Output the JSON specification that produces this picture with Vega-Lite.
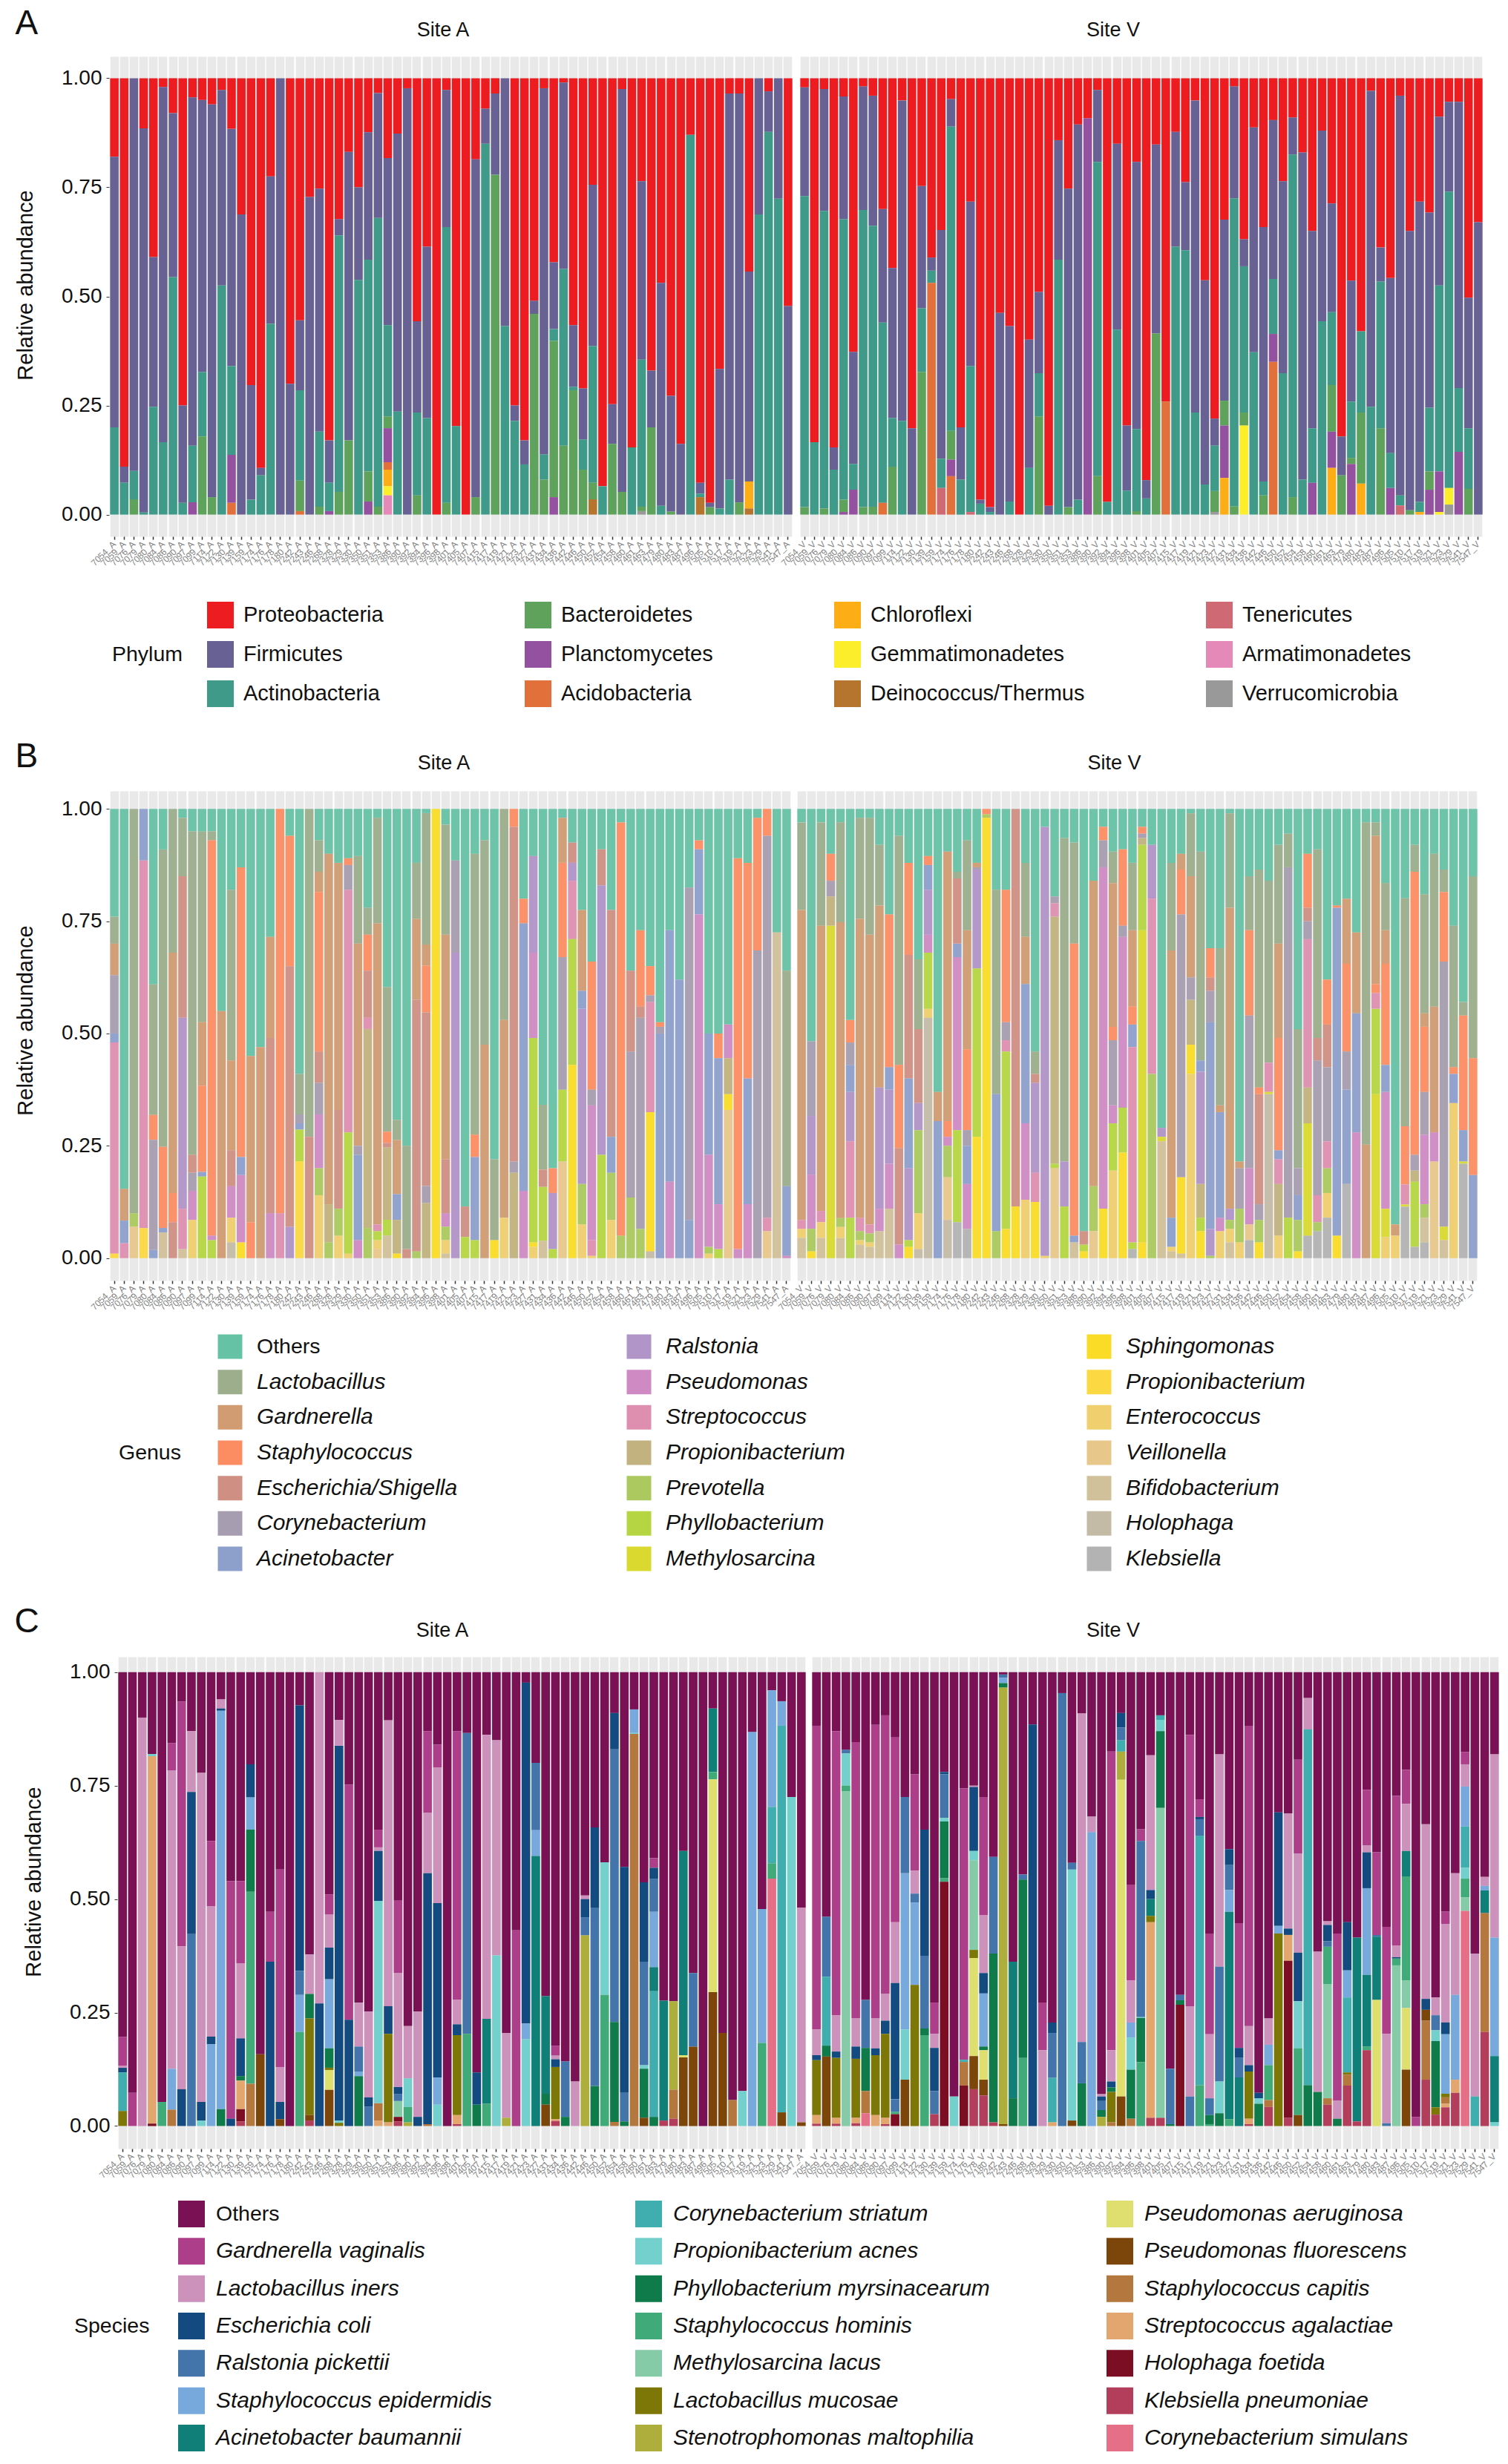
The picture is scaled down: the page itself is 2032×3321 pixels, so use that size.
{
"$schema":"https://vega.github.io/schema/vega-lite/v6.json",
"padding":{"left":19,"top":8,"right":0,"bottom":0},
"background":"white",
"spacing":0,
"resolve":{"scale":{"color":"independent"}},
"config":{"font":"Liberation Sans","view":{"stroke":null},
"axis":{"labelFont":"Liberation Sans","titleFont":"Liberation Sans","domain":false,"titleFontWeight":"normal"},
"axisX":{"grid":true,"gridColor":"#e9e9e9","gridWidth":11.6,"labelAngle":-45,"labelAlign":"right","labelBaseline":"middle","labelFontSize":12,"labelColor":"#858585","labelOverlap":false,"labelBound":false,"labelPadding":4,"tickSize":4,"tickColor":"#333333","tickWidth":1.5,"title":null},
"axisY":{"grid":false,"labelFontSize":28,"labelColor":"#111111","titleFontSize":29,"titleColor":"#111111","titlePadding":33,"labelPadding":6,"tickSize":4,"tickColor":"#333333"},
"title":{"font":"Liberation Sans","fontSize":27,"fontWeight":"normal","color":"#111111","offset":21.5}},
"datasets":{
"A_A":[{"x":"7054","a":0.18,"b":0.62,"c":0.2},{"x":"7059","a":0.89,"b":0.037,"c":0.073},{"x":"7076","b":0.9,"c":0.065,"d":0.035},{"x":"7079","a":0.115,"b":0.88,"c":0.005},{"x":"7080","a":0.41,"b":0.343,"c":0.247},{"x":"7084","a":0.02,"b":0.814,"c":0.166},{"x":"7086","a":0.08,"b":0.376,"c":0.544},{"x":"7090","a":0.75,"b":0.223,"c":0.027},{"x":"7097","a":0.044,"b":0.798,"c":0.13,"e":0.028},{"x":"7099","a":0.05,"b":0.623,"c":0.148,"d":0.179},{"x":"7114","a":0.06,"b":0.9,"d":0.04},{"x":"7122","a":0.027,"b":0.448,"c":0.525},{"x":"7130","a":0.116,"b":0.544,"c":0.203,"e":0.11,"f":0.027},{"x":"7139","a":0.312,"b":0.688},{"x":"7159","a":0.703,"b":0.263,"c":0.034},{"x":"7174","a":0.893,"b":0.017,"c":0.09},{"x":"7176","a":0.225,"b":0.338,"c":0.437},{"x":"7178","b":1},{"x":"7180","a":0.7,"b":0.3},{"x":"7242","a":0.555,"b":0.16,"c":0.207,"d":0.07,"f":0.008},{"x":"7243","a":0.272,"b":0.728},{"x":"7246","a":0.253,"b":0.557,"c":0.172,"d":0.018},{"x":"7268","a":0.83,"b":0.097,"c":0.065,"e":0.008},{"x":"7328","a":0.323,"b":0.037,"c":0.588,"d":0.052},{"x":"7329","a":0.169,"b":0.661,"d":0.17},{"x":"7330","a":0.25,"b":0.212,"c":0.538},{"x":"7350","a":0.124,"b":0.292,"c":0.485,"d":0.069,"e":0.03},{"x":"7351","a":0.034,"b":0.286,"c":0.662,"d":0.018},{"x":"7353","a":0.183,"b":0.383,"c":0.209,"d":0.027,"e":0.078,"f":0.017,"g":0.038,"h":0.021,"k":0.044},{"x":"7386","a":0.127,"b":0.637,"c":0.236},{"x":"7390","a":0.023,"b":0.977},{"x":"7392","a":0.557,"b":0.209,"c":0.19,"d":0.044},{"x":"7394","a":0.386,"b":0.393,"c":0.221},{"x":"7396","a":1},{"x":"7398","a":0.027,"b":0.314,"c":0.632,"d":0.027},{"x":"7401","a":0.797,"c":0.203},{"x":"7405","a":1},{"x":"7407","a":0.186,"b":0.774,"d":0.04},{"x":"7415","a":0.07,"b":0.08,"c":0.85},{"x":"7417","a":0.035,"b":0.186,"d":0.779},{"x":"7419","b":0.568,"c":0.432},{"x":"7421","a":0.75,"b":0.035,"c":0.215},{"x":"7423","a":0.83,"b":0.055,"c":0.115},{"x":"7427","a":0.51,"b":0.03,"d":0.46},{"x":"7431","a":0.023,"b":0.839,"c":0.058,"d":0.08},{"x":"7434","a":0.422,"b":0.153,"c":0.027,"d":0.358,"e":0.04},{"x":"7436","a":0.01,"b":0.427,"c":0.405,"d":0.158},{"x":"7442","a":0.566,"b":0.141,"c":0.008,"d":0.285},{"x":"7446","a":0.711,"b":0.117,"c":0.069,"d":0.103},{"x":"7450","a":0.244,"b":0.37,"c":0.313,"d":0.038,"i":0.035},{"x":"7452","a":0.935,"c":0.065},{"x":"7454","a":0.747,"b":0.091,"d":0.162},{"x":"7458","a":0.025,"b":0.923,"d":0.052},{"x":"7460","a":0.846,"c":0.154},{"x":"7461","a":0.236,"b":0.409,"c":0.337,"d":0.01,"l":0.008},{"x":"7463","a":0.67,"b":0.13,"d":0.2},{"x":"7479","a":0.469,"b":0.511,"c":0.02},{"x":"7480","a":0.728,"b":0.265,"d":0.007},{"x":"7483","a":0.838,"b":0.162},{"x":"7487","a":0.13,"c":0.87},{"x":"7496","a":0.927,"b":0.025,"c":0.008,"i":0.04},{"x":"7505","a":0.973,"b":0.01,"d":0.017},{"x":"7510","a":0.666,"b":0.32,"c":0.014},{"x":"7517","a":0.035,"b":0.885,"c":0.08},{"x":"7519","a":0.035,"b":0.937,"d":0.028},{"x":"7521","a":0.443,"b":0.481,"g":0.062,"i":0.014},{"x":"7523","b":0.312,"c":0.688},{"x":"7529","a":0.03,"b":0.093,"c":0.877},{"x":"7541","b":0.276,"c":0.724},{"x":"7547","a":0.522,"b":0.478}],
"A_V":[{"x":"7054","a":0.021,"b":0.249,"c":0.713,"d":0.017},{"x":"7059","a":0.834,"c":0.166},{"x":"7076","a":0.025,"b":0.279,"c":0.682,"d":0.014},{"x":"7079","a":0.846,"b":0.051,"c":0.103},{"x":"7080","a":0.042,"b":0.281,"c":0.643,"d":0.028,"e":0.006},{"x":"7084","a":0.627,"b":0.257,"c":0.059,"e":0.057},{"x":"7086","a":0.019,"b":0.283,"c":0.681,"d":0.017},{"x":"7090","a":0.04,"b":0.298,"c":0.644,"d":0.018},{"x":"7097","a":0.3,"b":0.26,"c":0.413,"f":0.027},{"x":"7099","a":0.435,"b":0.344,"c":0.111,"d":0.11},{"x":"7114","a":0.051,"b":0.734,"c":0.215},{"x":"7122","a":0.802,"b":0.198},{"x":"7130","a":0.247,"b":0.28,"c":0.146,"d":0.327},{"x":"7139","a":0.411,"b":0.03,"c":0.028,"f":0.531},{"x":"7159","a":0.348,"b":0.524,"c":0.067,"j":0.061},{"x":"7174","a":0.048,"b":0.063,"c":0.697,"d":0.066,"e":0.038,"f":0.088},{"x":"7176","a":0.8,"b":0.12,"c":0.08},{"x":"7178","a":0.283,"b":0.377,"c":0.334,"j":0.006},{"x":"7180","a":0.966,"b":0.009,"c":0.025},{"x":"7242","a":0.983,"b":0.011,"c":0.006},{"x":"7243","a":0.538,"b":0.462},{"x":"7246","a":0.568,"b":0.402,"c":0.03},{"x":"7268","a":1},{"x":"7328","a":0.599,"b":0.294,"c":0.107},{"x":"7329","a":0.49,"b":0.186,"c":0.099,"d":0.225},{"x":"7330","a":0.98,"b":0.02},{"x":"7350","a":0.142,"b":0.274,"c":0.584},{"x":"7351","a":0.253,"b":0.73,"d":0.017},{"x":"7353","a":0.106,"b":0.86,"c":0.034},{"x":"7386","a":0.092,"e":0.908},{"x":"7390","a":0.027,"b":0.165,"c":0.72,"d":0.088},{"x":"7392","a":0.971,"c":0.029},{"x":"7394","a":0.15,"b":0.426,"c":0.424},{"x":"7396","a":0.796,"b":0.149,"c":0.055},{"x":"7398","a":0.192,"b":0.612,"c":0.188,"d":0.008},{"x":"7401","a":0.921,"b":0.042,"c":0.037},{"x":"7405","a":0.152,"b":0.433,"d":0.415},{"x":"7407","a":0.741,"f":0.259},{"x":"7415","a":0.123,"b":0.263,"c":0.614},{"x":"7417","a":0.238,"b":0.156,"c":0.606},{"x":"7419","a":0.051,"b":0.715,"c":0.234},{"x":"7421","a":0.463,"b":0.468,"c":0.069},{"x":"7423","a":0.78,"b":0.062,"c":0.104,"d":0.048,"l":0.006},{"x":"7427","a":0.324,"b":0.415,"d":0.057,"e":0.12,"g":0.084},{"x":"7431","a":0.019,"b":0.256,"c":0.706,"d":0.019},{"x":"7434","a":0.369,"b":0.062,"c":0.335,"d":0.03,"h":0.204},{"x":"7436","a":0.113,"b":0.515,"c":0.372},{"x":"7442","a":0.341,"b":0.583,"c":0.032,"d":0.044},{"x":"7446","a":0.096,"b":0.364,"c":0.126,"e":0.064,"f":0.35},{"x":"7450","a":0.236,"b":0.44,"c":0.324},{"x":"7452","a":0.09,"b":0.085,"c":0.785,"d":0.04},{"x":"7454","a":0.17,"b":0.75,"c":0.08},{"x":"7458","a":0.35,"b":0.452,"c":0.125,"e":0.073},{"x":"7460","a":0.12,"b":0.437,"c":0.443},{"x":"7461","a":0.287,"b":0.249,"c":0.167,"d":0.107,"e":0.083,"g":0.107},{"x":"7463","a":0.821,"b":0.089,"d":0.09},{"x":"7479","a":0.464,"b":0.277,"c":0.129,"d":0.014,"e":0.116},{"x":"7480","a":0.58,"c":0.186,"d":0.163,"g":0.071},{"x":"7483","a":0.029,"b":0.724,"c":0.247},{"x":"7487","a":0.388,"b":0.078,"c":0.336,"d":0.198},{"x":"7496","a":0.458,"b":0.401,"c":0.08,"e":0.061},{"x":"7505","a":0.04,"b":0.916,"c":0.023,"j":0.021},{"x":"7510","a":0.35,"b":0.64,"d":0.01},{"x":"7517","a":0.283,"b":0.688,"c":0.023,"g":0.006},{"x":"7519","a":0.308,"b":0.447,"c":0.146,"d":0.042,"e":0.057},{"x":"7521","a":0.088,"b":0.387,"c":0.426,"e":0.093,"h":0.006},{"x":"7523","a":0.054,"b":0.206,"c":0.679,"h":0.038,"l":0.023},{"x":"7529","a":0.054,"b":0.656,"c":0.146,"e":0.144},{"x":"7541","a":0.503,"b":0.299,"c":0.139,"d":0.059},{"x":"7547","a":0.33,"b":0.67}],
"B_A":[{"x":"7054","a":0.24,"b":0.06,"c":0.07,"f":0.13,"g":0.02,"j":0.47,"p":0.01},{"x":"7059","a":0.84,"c":0.07,"g":0.05,"j":0.033},{"x":"7076","b":0.9,"l":0.03,"r":0.07},{"x":"7079","g":0.115,"j":0.82,"p":0.067},{"x":"7080","a":0.39,"b":0.29,"d":0.055,"f":0.245,"g":0.018},{"x":"7084","a":0.09,"b":0.66,"d":0.18,"g":0.01,"s":0.057},{"x":"7086","b":0.32,"c":0.535,"d":0.065,"e":0.08},{"x":"7090","a":0.02,"b":0.13,"e":0.315,"h":0.425,"j":0.09,"s":0.02},{"x":"7097","a":0.05,"b":0.72,"e":0.04,"f":0.04,"i":0.065,"q":0.085},{"x":"7099","a":0.05,"b":0.42,"c":0.14,"d":0.19,"g":0.01,"m":0.18},{"x":"7114","a":0.05,"b":0.02,"d":0.88,"i":0.01,"m":0.04},{"x":"7122","a":0.45,"c":0.55},{"x":"7130","a":0.18,"b":0.38,"c":0.2,"e":0.08,"i":0.07,"q":0.055,"t":0.035},{"x":"7139","a":0.13,"d":0.645,"g":0.04,"i":0.15,"o":0.035},{"x":"7159","a":0.55,"d":0.08,"c":0.37},{"x":"7174","a":0.53,"c":0.47},{"x":"7176","a":0.285,"c":0.225,"e":0.39,"i":0.1},{"x":"7178","d":0.9,"j":0.1},{"x":"7180","a":0.06,"d":0.29,"e":0.58,"h":0.07},{"x":"7242","a":0.59,"b":0.09,"f":0.02,"m":0.07,"p":0.216,"g":0.014},{"x":"7243","b":0.73,"e":0.27},{"x":"7246","a":0.07,"b":0.07,"c":0.045,"d":0.355,"e":0.07,"f":0.07,"i":0.12,"l":0.06,"q":0.14},{"x":"7268","a":0.1,"c":0.78,"l":0.035,"k":0.085},{"x":"7328","a":0.12,"c":0.55,"e":0.22,"l":0.06,"q":0.05},{"x":"7329","a":0.11,"d":0.015,"f":0.055,"j":0.54,"m":0.27,"q":0.01},{"x":"7330","a":0.105,"b":0.195,"f":0.02,"c":0.45,"g":0.19,"i":0.04},{"x":"7350","a":0.22,"b":0.06,"d":0.08,"e":0.105,"j":0.025,"k":0.443,"l":0.067},{"x":"7351","a":0.02,"b":0.235,"c":0.67,"j":0.015,"m":0.02,"q":0.02,"r":0.02},{"x":"7353","a":0.395,"b":0.32,"k":0.16,"d":0.025,"e":0.01,"m":0.035,"s":0.05},{"x":"7386","a":0.69,"b":0.045,"c":0.12,"g":0.057,"k":0.075,"o":0.01},{"x":"7390","a":0.75,"b":0.23,"e":0.02},{"x":"7392","a":0.12,"b":0.125,"c":0.18,"e":0.56,"l":0.015},{"x":"7394","a":0.01,"b":0.31,"c":0.05,"d":0.11,"e":0.41,"f":0.04,"k":0.13},{"x":"7396","o":1},{"x":"7398","a":0.035,"b":0.245,"c":0.5,"e":0.12,"i":0.03,"l":0.03,"q":0.03,"s":0.01},{"x":"7401","a":0.115,"f":0.205,"h":0.68},{"x":"7405","a":0.885,"e":0.068,"m":0.047},{"x":"7407","a":0.1,"b":0.625,"d":0.05,"g":0.185,"m":0.04},{"x":"7415","a":0.07,"b":0.455,"c":0.475},{"x":"7417","a":0.78,"b":0.18,"o":0.04},{"x":"7419","b":0.47,"c":0.44,"q":0.09},{"x":"7421","d":0.04,"e":0.745,"f":0.025,"k":0.19},{"x":"7423","a":0.2,"d":0.055,"g":0.595,"i":0.15},{"x":"7427","a":0.105,"h":0.215,"i":0.19,"m":0.455,"q":0.025,"o":0.01},{"x":"7431","a":0.685,"b":0.15,"e":0.04,"m":0.125,"s":0.04},{"x":"7434","a":0.8,"d":0.055,"h":0.125,"m":0.02},{"x":"7436","a":0.02,"c":0.1,"d":0.21,"f":0.295,"m":0.16,"r":0.215},{"x":"7442","a":0.075,"e":0.045,"h":0.04,"j":0.13,"m":0.28,"o":0.43},{"x":"7446","a":0.225,"c":0.18,"g":0.04,"h":0.39,"l":0.09,"q":0.075},{"x":"7450","a":0.34,"d":0.285,"f":0.035,"j":0.035,"i":0.3,"q":0.005},{"x":"7452","a":0.09,"e":0.08,"h":0.6,"m":0.23},{"x":"7454","a":0.225,"e":0.505,"g":0.08,"l":0.105,"q":0.085},{"x":"7458","a":0.03,"d":0.92,"l":0.05},{"x":"7460","a":0.36,"e":0.18,"f":0.325,"l":0.135},{"x":"7461","a":0.27,"d":0.17,"e":0.025,"f":0.47,"l":0.065},{"x":"7463","a":0.35,"d":0.065,"f":0.015,"j":0.245,"o":0.31,"t":0.015},{"x":"7479","a":0.475,"d":0.01,"g":0.5,"f":0.015},{"x":"7480","a":0.27,"g":0.56,"i":0.17},{"x":"7483","a":0.38,"g":0.62},{"x":"7487","a":0.175,"f":0.74,"g":0.085},{"x":"7496","a":0.07,"d":0.02,"g":0.145,"i":0.765},{"x":"7505","a":0.5,"g":0.27,"i":0.205,"l":0.015,"q":0.01},{"x":"7510","a":0.5,"d":0.055,"g":0.325,"i":0.1,"m":0.02},{"x":"7517","a":0.48,"i":0.075,"k":0.08,"o":0.035,"r":0.33},{"x":"7519","a":0.11,"d":0.87,"i":0.02},{"x":"7521","a":0.12,"d":0.48,"g":0.28,"i":0.12},{"x":"7523","a":0.02,"d":0.295,"f":0.685},{"x":"7529","d":0.06,"f":0.85,"j":0.03,"r":0.06},{"x":"7541","a":0.275,"s":0.725},{"x":"7547","a":0.36,"b":0.48,"g":0.155,"i":0.005}],
"B_V":[{"x":"7054","a":0.03,"b":0.195,"c":0.69,"j":0.02,"q":0.02,"s":0.045},{"x":"7059","a":0.515,"f":0.165,"h":0.13,"i":0.12,"l":0.05,"o":0.015},{"x":"7076","a":0.03,"b":0.23,"c":0.635,"j":0.025,"q":0.035,"s":0.045},{"x":"7079","a":0.1,"d":0.06,"f":0.035,"k":0.065,"n":0.74},{"x":"7080","a":0.03,"b":0.225,"c":0.665,"l":0.02,"q":0.025,"s":0.045},{"x":"7084","a":0.47,"d":0.05,"f":0.05,"g":0.06,"h":0.11,"j":0.17,"m":0.09},{"x":"7086","a":0.02,"b":0.225,"c":0.665,"j":0.03,"l":0.02,"q":0.01,"s":0.03},{"x":"7090","a":0.02,"b":0.26,"c":0.645,"j":0.02,"l":0.02,"q":0.01,"s":0.025},{"x":"7097","a":0.08,"b":0.135,"c":0.405,"h":0.27,"i":0.05,"s":0.06},{"x":"7099","a":0.235,"d":0.34,"g":0.05,"h":0.165,"i":0.1,"s":0.11},{"x":"7114","a":0.06,"b":0.51,"e":0.215,"d":0.185,"i":0.03},{"x":"7122","a":0.12,"d":0.205,"e":0.275,"g":0.2,"h":0.16,"m":0.015,"o":0.025},{"x":"7130","a":0.335,"b":0.155,"e":0.165,"h":0.06,"l":0.185,"q":0.08,"t":0.02},{"x":"7139","a":0.105,"d":0.02,"g":0.055,"h":0.1,"i":0.04,"m":0.125,"q":0.02,"t":0.535},{"x":"7159","a":0.63,"g":0.305,"c":0.065},{"x":"7174","a":0.095,"c":0.6,"d":0.035,"i":0.02,"l":0.07,"r":0.095,"t":0.085},{"x":"7176","a":0.14,"b":0.015,"e":0.145,"g":0.03,"i":0.385,"m":0.205,"u":0.08},{"x":"7178","a":0.07,"b":0.2,"c":0.265,"d":0.18,"f":0.035,"g":0.085,"i":0.1,"u":0.065},{"x":"7180","a":0.12,"c":0.01,"h":0.22,"m":0.375,"o":0.27,"f":0.005},{"x":"7242","d":0.012,"l":0.008,"o":0.98},{"x":"7243","a":0.18,"b":0.455,"g":0.305,"l":0.06},{"x":"7246","a":0.18,"d":0.295,"f":0.04,"j":0.025,"m":0.395,"o":0.065},{"x":"7268","e":0.885,"o":0.115},{"x":"7328","a":0.12,"b":0.165,"c":0.105,"g":0.31,"i":0.17,"q":0.13},{"x":"7329","a":0.54,"b":0.05,"e":0.02,"h":0.2,"j":0.065,"o":0.125},{"x":"7330","a":0.04,"h":0.955,"q":0.005},{"x":"7350","a":0.195,"f":0.015,"j":0.03,"k":0.55,"m":0.01,"r":0.2},{"x":"7351","a":0.065,"b":0.72,"h":0.1,"m":0.115},{"x":"7353","a":0.075,"b":0.225,"d":0.65,"g":0.015,"s":0.035},{"x":"7386","a":0.94,"e":0.03,"m":0.015,"o":0.015},{"x":"7390","a":0.16,"c":0.68,"l":0.1,"r":0.06},{"x":"7392","a":0.04,"d":0.03,"f":0.06,"i":0.76,"o":0.11},{"x":"7394","a":0.095,"c":0.32,"d":0.03,"f":0.145,"i":0.04,"b":0.07,"m":0.105,"q":0.195},{"x":"7396","a":0.09,"d":0.17,"f":0.025,"i":0.38,"m":0.1,"o":0.235},{"x":"7398","a":0.12,"b":0.15,"c":0.17,"d":0.04,"g":0.05,"j":0.435,"m":0.015,"u":0.02},{"x":"7401","a":0.04,"d":0.015,"f":0.01,"k":0.015,"m":0.19,"n":0.695,"o":0.035},{"x":"7405","a":0.08,"h":0.12,"j":0.39,"l":0.41},{"x":"7407","a":0.71,"h":0.02,"n":0.01,"s":0.26},{"x":"7415","a":0.12,"b":0.195,"c":0.595,"g":0.065,"q":0.01,"s":0.015},{"x":"7417","a":0.1,"c":0.035,"d":0.1,"f":0.585,"o":0.17,"s":0.01},{"x":"7419","a":0.01,"b":0.14,"c":0.225,"f":0.05,"q":0.41,"k":0.1,"o":0.065},{"x":"7421","a":0.095,"b":0.465,"g":0.025,"h":0.25,"k":0.075,"m":0.03,"o":0.06},{"x":"7423","a":0.31,"d":0.065,"e":0.03,"f":0.07,"g":0.46,"h":0.06,"l":0.005},{"x":"7427","a":0.31,"b":0.35,"c":0.015,"g":0.235,"i":0.03,"q":0.06},{"x":"7431","a":0.01,"b":0.21,"c":0.67,"h":0.025,"l":0.02,"q":0.03,"s":0.035},{"x":"7434","a":0.785,"c":0.015,"f":0.09,"l":0.075,"q":0.035},{"x":"7436","a":0.15,"b":0.12,"d":0.19,"f":0.34,"i":0.125,"r":0.035,"u":0.04},{"x":"7442","a":0.135,"b":0.485,"d":0.015,"e":0.245,"f":0.035,"l":0.05,"o":0.035},{"x":"7446","a":0.16,"b":0.405,"j":0.065,"n":0.005,"t":0.365},{"x":"7450","a":0.08,"b":0.22,"c":0.21,"d":0.25,"g":0.02,"j":0.055,"k":0.115,"q":0.05},{"x":"7452","a":0.055,"b":0.075,"f":0.78,"m":0.09},{"x":"7454","a":0.49,"b":0.31,"f":0.06,"g":0.055,"l":0.07,"o":0.015},{"x":"7458","a":0.1,"d":0.12,"e":0.03,"f":0.04,"j":0.33,"n":0.25,"k":0.08,"u":0.05},{"x":"7460","a":0.09,"b":0.42,"e":0.05,"f":0.3,"j":0.06,"l":0.02,"u":0.06},{"x":"7461","a":0.38,"d":0.1,"e":0.095,"f":0.165,"j":0.06,"l":0.055,"q":0.055,"u":0.09},{"x":"7463","a":0.215,"d":0.005,"g":0.73,"o":0.05},{"x":"7479","a":0.2,"c":0.145,"d":0.195,"f":0.085,"g":0.21,"u":0.165},{"x":"7480","a":0.275,"c":0.18,"g":0.265,"i":0.28},{"x":"7483","a":0.03,"b":0.71,"c":0.25},{"x":"7487","a":0.03,"b":0.03,"c":0.33,"d":0.02,"j":0.035,"m":0.19,"n":0.365},{"x":"7496","a":0.165,"b":0.105,"c":0.075,"d":0.225,"g":0.06,"i":0.26,"n":0.063,"q":0.047},{"x":"7505","a":0.925,"c":0.025,"q":0.05},{"x":"7510","a":0.2,"b":0.51,"d":0.13,"j":0.045,"n":0.005,"u":0.115},{"x":"7517","a":0.08,"b":0.06,"d":0.63,"f":0.035,"k":0.025,"m":0.145,"u":0.025},{"x":"7519","a":0.19,"b":0.265,"c":0.03,"d":0.145,"f":0.095,"i":0.155,"l":0.03,"s":0.055,"u":0.035},{"x":"7521","a":0.1,"b":0.34,"c":0.28,"i":0.065,"r":0.215},{"x":"7523","a":0.135,"b":0.05,"d":0.155,"f":0.59,"n":0.03,"s":0.04},{"x":"7529","a":0.26,"b":0.315,"d":0.015,"g":0.065,"q":0.345},{"x":"7541","a":0.43,"b":0.03,"d":0.255,"g":0.07,"n":0.005,"u":0.21},{"x":"7547","a":0.15,"b":0.405,"d":0.26,"g":0.185}],
"C_A":[{"x":"7054","a":0.803,"b":0.063,"c":0.005,"d":0.01,"h":0.085,"m":0.033},{"x":"7059","a":0.927,"b":0.073},{"x":"7076","a":0.1,"c":0.9},{"x":"7079","a":0.18,"i":0.005,"s":0.005,"r":0.81},{"x":"7080","a":0.947,"k":0.053},{"x":"7084","a":0.156,"b":0.061,"c":0.657,"f":0.09,"q":0.036},{"x":"7086","a":0.065,"b":0.539,"c":0.315,"d":0.081},{"x":"7090","a":0.13,"c":0.134,"d":0.313,"e":0.423},{"x":"7097","a":0.222,"c":0.725,"d":0.041,"i":0.012},{"x":"7099","a":0.372,"b":0.144,"c":0.287,"d":0.017,"f":0.18},{"x":"7114","a":0.06,"c":0.02,"d":0.005,"f":0.878,"j":0.037},{"x":"7122","a":0.46,"b":0.524,"d":0.016},{"x":"7130","a":0.46,"b":0.182,"c":0.165,"d":0.083,"j":0.01,"r":0.063,"s":0.027,"t":0.01},{"x":"7139","a":0.203,"d":0.073,"f":0.071,"j":0.137,"k":0.423,"q":0.093},{"x":"7159","a":0.842,"p":0.158},{"x":"7174","a":0.528,"b":0.11,"d":0.362},{"x":"7176","a":0.435,"b":0.435,"c":0.077,"d":0.038,"p":0.015},{"x":"7178","a":1},{"x":"7180","a":0.073,"d":0.585,"e":0.053,"f":0.082,"k":0.207},{"x":"7242","a":0.622,"c":0.087,"j":0.054,"m":0.213,"p":0.012,"t":0.012},{"x":"7243","c":0.73,"d":0.27},{"x":"7246","a":0.492,"b":0.045,"c":0.073,"d":0.07,"f":0.153,"j":0.043,"m":0.005,"o":0.044,"p":0.08},{"x":"7268","a":0.105,"c":0.057,"i":0.005,"d":0.826,"m":0.007},{"x":"7328","a":0.248,"b":0.518,"d":0.234},{"x":"7329","a":0.728,"c":0.097,"e":0.055,"f":0.01,"j":0.11},{"x":"7330","a":0.748,"c":0.189,"d":0.02,"e":0.043},{"x":"7350","a":0.347,"b":0.039,"c":0.008,"d":0.11,"i":0.446,"q":0.038,"r":0.012},{"x":"7351","a":0.106,"c":0.63,"d":0.061,"m":0.195,"r":0.008},{"x":"7353","a":0.504,"b":0.159,"c":0.252,"d":0.016,"e":0.015,"l":0.035,"s":0.01,"t":0.01},{"x":"7386","a":0.78,"c":0.115,"k":0.034,"i":0.063,"n":0.008},{"x":"7390","a":0.748,"c":0.232,"d":0.02},{"x":"7392","a":0.13,"b":0.18,"c":0.133,"d":0.553,"q":0.004},{"x":"7394","a":0.16,"b":0.05,"c":0.3,"d":0.385,"f":0.06,"i":0.047},{"x":"7396","a":1},{"x":"7398","a":0.13,"b":0.592,"c":0.054,"d":0.024,"m":0.176,"r":0.02,"t":0.004},{"x":"7401","a":0.134,"e":0.663,"k":0.203},{"x":"7405","a":0.882,"d":0.071,"j":0.047},{"x":"7407","a":0.138,"c":0.626,"g":0.187,"k":0.049},{"x":"7415","a":0.15,"c":0.474,"i":0.376},{"x":"7417","a":0.795,"c":0.187,"n":0.018},{"x":"7419","a":0.569,"b":0.431},{"x":"7421","a":0.023,"d":0.751,"f":0.035,"i":0.191},{"x":"7423","a":0.2,"e":0.148,"f":0.057,"g":0.595},{"x":"7427","a":0.714,"g":0.215,"j":0.024,"p":0.047},{"x":"7431","a":0.823,"b":0.022,"c":0.008,"d":0.017,"m":0.115,"r":0.004,"t":0.011},{"x":"7434","a":0.858,"e":0.122,"j":0.02},{"x":"7436","a":0.902,"c":0.098},{"x":"7442","a":0.492,"c":0.008,"d":0.04,"e":0.04,"n":0.42},{"x":"7446","a":0.342,"d":0.178,"e":0.392,"j":0.088},{"x":"7450","a":0.419,"i":0.292,"k":0.289},{"x":"7452","a":0.09,"d":0.08,"e":0.601,"j":0.22,"q":0.009},{"x":"7454","a":0.429,"d":0.498,"e":0.063,"j":0.01},{"x":"7458","a":0.082,"f":0.052,"i":0.002,"q":0.864},{"x":"7460","a":0.463,"d":0.175,"e":0.228,"i":0.008,"j":0.108,"p":0.018},{"x":"7461","a":0.41,"b":0.021,"d":0.024,"e":0.073,"f":0.122,"g":0.053,"h":0.277,"j":0.02},{"x":"7463","a":0.724,"g":0.264,"t":0.012},{"x":"7479","a":0.725,"n":0.195,"q":0.064,"t":0.016},{"x":"7480","a":0.394,"g":0.45,"o":0.005,"p":0.151},{"x":"7483","a":0.663,"e":0.162,"p":0.175},{"x":"7487","a":1},{"x":"7496","a":0.08,"g":0.14,"k":0.016,"o":0.469,"p":0.295},{"x":"7505","a":0.795,"p":0.205},{"x":"7510","a":0.943,"q":0.057},{"x":"7517","a":0.923,"i":0.077},{"x":"7519","a":0.132,"f":0.868},{"x":"7521","a":0.522,"f":0.295,"k":0.183},{"x":"7523","a":0.04,"f":0.257,"h":0.124,"k":0.034,"u":0.545},{"x":"7529","a":0.064,"f":0.054,"h":0.852,"p":0.03},{"x":"7541","a":0.275,"i":0.725},{"x":"7547","a":0.519,"c":0.473,"p":0.008}],
"C_V":[{"x":"7054","a":0.118,"b":0.669,"c":0.057,"d":0.011,"m":0.121,"r":0.019,"t":0.005},{"x":"7059","a":0.539,"e":0.132,"h":0.152,"j":0.024,"p":0.153},{"x":"7076","a":0.13,"b":0.626,"c":0.08,"d":0.014,"m":0.132,"r":0.013,"t":0.005},{"x":"7079","a":0.171,"e":0.008,"i":0.071,"k":0.012,"l":0.738},{"x":"7080","a":0.154,"b":0.609,"c":0.062,"d":0.027,"m":0.13,"r":0.012,"t":0.006},{"x":"7084","a":0.722,"e":0.106,"j":0.095,"q":0.049,"u":0.028},{"x":"7086","a":0.116,"b":0.647,"c":0.066,"d":0.015,"m":0.132,"r":0.024},{"x":"7090","a":0.095,"b":0.614,"c":0.059,"d":0.029,"m":0.185,"r":0.014,"t":0.004},{"x":"7097","a":0.144,"b":0.407,"c":0.134,"d":0.256,"e":0.028,"k":0.005,"s":0.026},{"x":"7099","a":0.275,"e":0.168,"f":0.344,"i":0.111,"p":0.102},{"x":"7114","a":0.225,"b":0.212,"c":0.051,"e":0.02,"f":0.181,"m":0.311},{"x":"7122","a":0.347,"d":0.279,"e":0.159,"j":0.015,"k":0.2},{"x":"7130","a":0.728,"b":0.069,"c":0.031,"d":0.095,"e":0.051,"t":0.026},{"x":"7139","a":0.22,"d":0.005,"e":0.096,"i":0.008,"j":0.125,"k":0.008,"s":0.538},{"x":"7159","a":0.935,"i":0.065},{"x":"7174","a":0.256,"b":0.598,"h":0.005,"q":0.052,"s":0.089},{"x":"7176","a":0.25,"c":0.003,"d":0.141,"i":0.021,"l":0.197,"m":0.018,"o":0.216,"p":0.073,"t":0.081},{"x":"7178","a":0.275,"b":0.26,"c":0.128,"d":0.045,"f":0.117,"j":0.008,"o":0.065,"p":0.035,"t":0.067},{"x":"7180","a":0.407,"e":0.213,"j":0.372,"t":0.008},{"x":"7242","a":0.005,"e":0.007,"f":0.012,"j":0.01,"n":0.962,"p":0.004},{"x":"7243","a":0.638,"g":0.301,"j":0.061},{"x":"7246","a":0.446,"e":0.011,"j":0.393,"k":0.15},{"x":"7268","a":0.115,"d":0.885},{"x":"7328","a":0.728,"b":0.105,"c":0.167},{"x":"7329","a":0.772,"d":0.023,"e":0.099,"h":0.098,"r":0.008},{"x":"7330","a":0.046,"e":0.954},{"x":"7350","a":0.42,"e":0.015,"i":0.553,"p":0.012},{"x":"7351","a":0.091,"c":0.724,"e":0.091,"j":0.094},{"x":"7353","a":0.317,"c":0.034,"f":0.645},{"x":"7386","a":0.93,"c":0.005,"d":0.01,"e":0.02,"j":0.015,"n":0.02},{"x":"7390","a":0.175,"b":0.658,"c":0.069,"d":0.013,"j":0.01,"m":0.067,"q":0.008},{"x":"7392","a":0.09,"d":0.032,"e":0.028,"h":0.025,"n":0.062,"o":0.698,"p":0.065},{"x":"7394","a":0.469,"b":0.21,"c":0.093,"f":0.033,"i":0.071,"j":0.108,"q":0.016},{"x":"7396","a":0.346,"b":0.026,"e":0.388,"i":0.002,"j":0.097,"k":0.141},{"x":"7398","a":0.183,"c":0.297,"d":0.02,"g":0.037,"m":0.014,"r":0.431,"t":0.018},{"x":"7401","a":0.095,"h":0.01,"i":0.025,"j":0.169,"l":0.683,"t":0.018},{"x":"7405","a":0.874,"e":0.122,"j":0.004},{"x":"7407","a":0.711,"e":0.012,"j":0.01,"s":0.267},{"x":"7415","a":0.138,"b":0.598,"c":0.199,"e":0.065},{"x":"7417","a":0.28,"b":0.039,"d":0.005,"e":0.036,"h":0.55,"k":0.09},{"x":"7419","a":0.577,"b":0.221,"c":0.141,"e":0.037,"j":0.02,"k":0.004},{"x":"7421","a":0.181,"c":0.468,"e":0.253,"i":0.07,"j":0.028},{"x":"7423","a":0.39,"d":0.035,"e":0.055,"f":0.048,"g":0.457,"k":0.015},{"x":"7427","a":0.553,"b":0.275,"d":0.022,"e":0.043,"g":0.107},{"x":"7431","a":0.118,"b":0.662,"c":0.086,"d":0.014,"m":0.104,"r":0.012,"t":0.004},{"x":"7434","a":0.927,"d":0.012,"i":0.012,"j":0.049},{"x":"7436","a":0.763,"c":0.058,"f":0.045,"k":0.077,"q":0.015,"t":0.042},{"x":"7442","a":0.309,"d":0.25,"f":0.017,"m":0.424},{"x":"7446","a":0.311,"c":0.254,"d":0.014,"r":0.057,"s":0.346,"t":0.018},{"x":"7450","a":0.193,"b":0.207,"c":0.218,"d":0.107,"i":0.104,"k":0.147,"p":0.024},{"x":"7452","a":0.057,"c":0.069,"h":0.784,"j":0.09},{"x":"7454","a":0.616,"c":0.309,"j":0.075},{"x":"7458","a":0.549,"c":0.008,"d":0.036,"e":0.012,"k":0.082,"l":0.252,"q":0.014,"t":0.047},{"x":"7460","a":0.576,"b":0.368,"c":0.04,"j":0.016},{"x":"7461","a":0.551,"d":0.106,"f":0.06,"h":0.165,"m":0.005,"q":0.024,"t":0.089},{"x":"7463","a":0.585,"g":0.405,"t":0.01},{"x":"7479","a":0.259,"b":0.123,"c":0.015,"d":0.079,"f":0.191,"g":0.158,"k":0.008,"t":0.167},{"x":"7480","a":0.397,"b":0.182,"g":0.139,"o":0.278,"e":0.004},{"x":"7483","a":0.561,"b":0.236,"c":0.197,"e":0.006},{"x":"7487","a":0.272,"b":0.33,"c":0.026,"d":0.003,"k":0.015,"l":0.354},{"x":"7496","a":0.215,"b":0.075,"c":0.104,"g":0.056,"k":0.229,"l":0.061,"o":0.136,"p":0.124},{"x":"7505","a":0.98,"b":0.02},{"x":"7510","a":0.335,"c":0.385,"d":0.024,"p":0.024,"q":0.13,"t":0.102},{"x":"7517","a":0.717,"c":0.039,"e":0.033,"i":0.024,"j":0.146,"m":0.016,"t":0.025},{"x":"7519","a":0.527,"b":0.027,"c":0.217,"d":0.026,"f":0.131,"m":0.008,"q":0.014,"r":0.008,"t":0.041},{"x":"7521","a":0.443,"c":0.268,"f":0.187,"r":0.029,"t":0.073},{"x":"7523","a":0.176,"b":0.027,"c":0.049,"f":0.088,"h":0.091,"k":0.041,"l":0.03,"u":0.474,"i":0.024},{"x":"7529","a":0.62,"c":0.315,"h":0.065},{"x":"7541","a":0.451,"c":0.02,"f":0.01,"g":0.05,"q":0.262,"t":0.207},{"x":"7547","a":0.181,"c":0.404,"f":0.261,"g":0.146,"i":0.008}],
"leg_A":[{"k":"a","n":"Proteobacteria","c":1,"r":1},{"k":"b","n":"Firmicutes","c":1,"r":2},{"k":"c","n":"Actinobacteria","c":1,"r":3},{"k":"d","n":"Bacteroidetes","c":2,"r":1},{"k":"e","n":"Planctomycetes","c":2,"r":2},{"k":"f","n":"Acidobacteria","c":2,"r":3},{"k":"g","n":"Chloroflexi","c":3,"r":1},{"k":"h","n":"Gemmatimonadetes","c":3,"r":2},{"k":"i","n":"Deinococcus/Thermus","c":3,"r":3},{"k":"j","n":"Tenericutes","c":4,"r":1},{"k":"k","n":"Armatimonadetes","c":4,"r":2},{"k":"l","n":"Verrucomicrobia","c":4,"r":3}],
"leg_B":[{"k":"a","n":"Others","c":1,"r":1},{"k":"b","n":"Lactobacillus","c":1,"r":2},{"k":"c","n":"Gardnerella","c":1,"r":3},{"k":"d","n":"Staphylococcus","c":1,"r":4},{"k":"e","n":"Escherichia/Shigella","c":1,"r":5},{"k":"f","n":"Corynebacterium","c":1,"r":6},{"k":"g","n":"Acinetobacter","c":1,"r":7},{"k":"h","n":"Ralstonia","c":2,"r":1},{"k":"i","n":"Pseudomonas","c":2,"r":2},{"k":"j","n":"Streptococcus","c":2,"r":3},{"k":"k","n":"Propionibacterium","c":2,"r":4},{"k":"l","n":"Prevotella","c":2,"r":5},{"k":"m","n":"Phyllobacterium","c":2,"r":6},{"k":"n","n":"Methylosarcina","c":2,"r":7},{"k":"o","n":"Sphingomonas","c":3,"r":1},{"k":"p","n":"Propionibacterium","c":3,"r":2},{"k":"q","n":"Enterococcus","c":3,"r":3},{"k":"r","n":"Veillonella","c":3,"r":4},{"k":"s","n":"Bifidobacterium","c":3,"r":5},{"k":"t","n":"Holophaga","c":3,"r":6},{"k":"u","n":"Klebsiella","c":3,"r":7}],
"leg_C":[{"k":"a","n":"Others","c":1,"r":1},{"k":"b","n":"Gardnerella vaginalis","c":1,"r":2},{"k":"c","n":"Lactobacillus iners","c":1,"r":3},{"k":"d","n":"Escherichia coli","c":1,"r":4},{"k":"e","n":"Ralstonia pickettii","c":1,"r":5},{"k":"f","n":"Staphylococcus epidermidis","c":1,"r":6},{"k":"g","n":"Acinetobacter baumannii","c":1,"r":7},{"k":"h","n":"Corynebacterium striatum","c":2,"r":1},{"k":"i","n":"Propionibacterium acnes","c":2,"r":2},{"k":"j","n":"Phyllobacterium myrsinacearum","c":2,"r":3},{"k":"k","n":"Staphylococcus hominis","c":2,"r":4},{"k":"l","n":"Methylosarcina lacus","c":2,"r":5},{"k":"m","n":"Lactobacillus mucosae","c":2,"r":6},{"k":"n","n":"Stenotrophomonas maltophilia","c":2,"r":7},{"k":"o","n":"Pseudomonas aeruginosa","c":3,"r":1},{"k":"p","n":"Pseudomonas fluorescens","c":3,"r":2},{"k":"q","n":"Staphylococcus capitis","c":3,"r":3},{"k":"r","n":"Streptococcus agalactiae","c":3,"r":4},{"k":"s","n":"Holophaga foetida","c":3,"r":5},{"k":"t","n":"Klebsiella pneumoniae","c":3,"r":6},{"k":"u","n":"Corynebacterium simulans","c":3,"r":7}]
},
"vconcat":[
{"title":{"text":"A","anchor":"start","fontSize":46,"offset":-29},"spacing":8,"bounds":"flush","hconcat":[
{"title":{"text":"Site A","dx":-11},"width":922,"height":647,"data":{"name":"A_A"},"transform":[{"fold":["a","b","c","d","e","f","g","h","i","j","k","l"],"as":["k","v"]},{"filter":"datum.v>0"}],"mark":{"type":"bar"},"encoding":{"x":{"field":"x","type":"nominal","sort":null,"title":null,"scale":{"paddingInner":0.12,"paddingOuter":0.1},"axis":{"labelExpr":"datum.label+'_A'"}},"y":{"field":"v","type":"quantitative","stack":"normalize","title":"Relative abundance","axis":{"values":[0,0.25,0.5,0.75,1],"labelExpr":"format(datum.value,'.2f')","titleY":308},"scale":{"domain":[-0.05,1.05],"nice":false}},"color":{"field":"k","type":"nominal","legend":null,"scale":{"domain":["a","b","c","d","e","f","g","h","i","j","k","l"],"range":["#ed1c20","#676293","#3f9a8a","#5fa25c","#93519f","#e1703a","#fdae16","#fdee2c","#b5752f","#cf6a75","#e589b8","#999999"]}},"order":{"field":"k","sort":"descending"}}},
{"title":{"text":"Site V","dx":-38},"width":922,"height":647,"data":{"name":"A_V"},"transform":[{"fold":["a","b","c","d","e","f","g","h","i","j","k","l"],"as":["k","v"]},{"filter":"datum.v>0"}],"mark":{"type":"bar"},"encoding":{"x":{"field":"x","type":"nominal","sort":null,"title":null,"scale":{"paddingInner":0.12,"paddingOuter":0.1},"axis":{"labelExpr":"datum.label+'_V'"}},"y":{"field":"v","type":"quantitative","stack":"normalize","axis":null,"scale":{"domain":[-0.05,1.05],"nice":false}},"color":{"field":"k","type":"nominal","legend":null,"scale":{"domain":["a","b","c","d","e","f","g","h","i","j","k","l"],"range":["#ed1c20","#676293","#3f9a8a","#5fa25c","#93519f","#e1703a","#fdae16","#fdee2c","#b5752f","#cf6a75","#e589b8","#999999"]}},"order":{"field":"k","sort":"descending"}}}
]},
{"width":1800,"height":232,"data":{"name":"leg_A"},"layer":[
{"mark":{"type":"square","size":1296,"opacity":1},"encoding":{"x":{"field":"c","type":"quantitative","axis":null,"scale":{"domain":[0,1,2,3,4],"range":[4,150,578,995,1496]}},"y":{"field":"r","type":"quantitative","axis":null,"scale":{"domain":[1,3],"range":[64,170]}},"color":{"field":"k","type":"nominal","legend":null,"scale":{"domain":["a","b","c","d","e","f","g","h","i","j","k","l"],"range":["#ed1c20","#676293","#3f9a8a","#5fa25c","#93519f","#e1703a","#fdae16","#fdee2c","#b5752f","#cf6a75","#e589b8","#999999"]}}}},
{"mark":{"type":"text","align":"left","baseline":"middle","fontSize":29,"dx":31,"color":"#111111"},"encoding":{"x":{"field":"c","type":"quantitative"},"y":{"field":"r","type":"quantitative"},"text":{"field":"n"}}},
{"data":{"values":[{"n":"Phylum","c":0,"r":2}]},"mark":{"type":"text","align":"left","baseline":"middle","fontSize":28.5,"color":"#111111"},"encoding":{"x":{"field":"c","type":"quantitative"},"y":{"field":"r","type":"quantitative"},"text":{"field":"n"}}}
]},
{"title":{"text":"B","anchor":"start","fontSize":46,"offset":-29},"spacing":6,"bounds":"flush","hconcat":[
{"title":{"text":"Site A","dx":-9,"offset":23},"width":920,"height":660,"data":{"name":"B_A"},"transform":[{"fold":["a","b","c","d","e","f","g","h","i","j","k","l","m","n","o","p","q","r","s","t","u"],"as":["k","v"]},{"filter":"datum.v>0"}],"mark":{"type":"bar","opacity":0.95},"encoding":{"x":{"field":"x","type":"nominal","sort":null,"title":null,"scale":{"paddingInner":0.12,"paddingOuter":0.1},"axis":{"labelExpr":"datum.label+'_A'"}},"y":{"field":"v","type":"quantitative","stack":"normalize","title":"Relative abundance","axis":{"values":[0,0.25,0.5,0.75,1],"labelExpr":"format(datum.value,'.2f')","titleY":309},"scale":{"domain":[-0.05,1.04],"nice":false}},"color":{"field":"k","type":"nominal","legend":null,"scale":{"domain":["a","b","c","d","e","f","g","h","i","j","k","l","m","n","o","p","q","r","s","t","u"],"range":["#66c2a5","#9cae8c","#d19c72","#fc8d62","#cf8f83","#a79db0","#8da0cb","#b194c8","#cf8ac3","#de8fb0","#c2b280","#abc95f","#b5d642","#d9d92f","#fadc26","#fcd842","#f0cf6e","#e8c78a","#d1c19a","#c4bba6","#b3b3b3"]}},"order":{"field":"k","sort":"descending"}}},
{"title":{"text":"Site V","dx":-31,"offset":23},"width":919,"height":660,"data":{"name":"B_V"},"transform":[{"fold":["a","b","c","d","e","f","g","h","i","j","k","l","m","n","o","p","q","r","s","t","u"],"as":["k","v"]},{"filter":"datum.v>0"}],"mark":{"type":"bar","opacity":0.95},"encoding":{"x":{"field":"x","type":"nominal","sort":null,"title":null,"scale":{"paddingInner":0.12,"paddingOuter":0.1},"axis":{"labelExpr":"datum.label+'_V'"}},"y":{"field":"v","type":"quantitative","stack":"normalize","axis":null,"scale":{"domain":[-0.05,1.04],"nice":false}},"color":{"field":"k","type":"nominal","legend":null,"scale":{"domain":["a","b","c","d","e","f","g","h","i","j","k","l","m","n","o","p","q","r","s","t","u"],"range":["#66c2a5","#9cae8c","#d19c72","#fc8d62","#cf8f83","#a79db0","#8da0cb","#b194c8","#cf8ac3","#de8fb0","#c2b280","#abc95f","#b5d642","#d9d92f","#fadc26","#fcd842","#f0cf6e","#e8c78a","#d1c19a","#c4bba6","#b3b3b3"]}},"order":{"field":"k","sort":"descending"}}}
]},
{"width":1800,"height":394,"data":{"name":"leg_B"},"layer":[
{"mark":{"type":"square","size":1089,"opacity":1},"encoding":{"x":{"field":"c","type":"quantitative","axis":null,"scale":{"domain":[0,1,2,3],"range":[13,163,714,1334]}},"y":{"field":"r","type":"quantitative","axis":null,"scale":{"domain":[1,7],"range":[47,333]}},"color":{"field":"k","type":"nominal","legend":null,"scale":{"domain":["a","b","c","d","e","f","g","h","i","j","k","l","m","n","o","p","q","r","s","t","u"],"range":["#66c2a5","#9cae8c","#d19c72","#fc8d62","#cf8f83","#a79db0","#8da0cb","#b194c8","#cf8ac3","#de8fb0","#c2b280","#abc95f","#b5d642","#d9d92f","#fadc26","#fcd842","#f0cf6e","#e8c78a","#d1c19a","#c4bba6","#b3b3b3"]}}}},
{"transform":[{"filter":"datum.k!='a'"}],"mark":{"type":"text","align":"left","baseline":"middle","fontSize":30,"fontStyle":"italic","dx":36,"color":"#111111"},"encoding":{"x":{"field":"c","type":"quantitative"},"y":{"field":"r","type":"quantitative"},"text":{"field":"n"}}},
{"transform":[{"filter":"datum.k=='a'"}],"mark":{"type":"text","align":"left","baseline":"middle","fontSize":28.5,"dx":36,"color":"#111111"},"encoding":{"x":{"field":"c","type":"quantitative"},"y":{"field":"r","type":"quantitative"},"text":{"field":"n"}}},
{"data":{"values":[{"n":"Genus","c":0,"r":4}]},"mark":{"type":"text","align":"left","baseline":"middle","fontSize":28.5,"color":"#111111"},"encoding":{"x":{"field":"c","type":"quantitative"},"y":{"field":"r","type":"quantitative"},"text":{"field":"n"}}}
]},
{"title":{"text":"C","anchor":"start","fontSize":46,"offset":-26,"dx":-12},"spacing":6,"bounds":"flush","hconcat":[
{"title":{"text":"Site A","dx":-21,"offset":21.5},"width":940,"height":663,"data":{"name":"C_A"},"transform":[{"fold":["a","b","c","d","e","f","g","h","i","j","k","l","m","n","o","p","q","r","s","t","u"],"as":["k","v"]},{"filter":"datum.v>0"}],"mark":{"type":"bar"},"encoding":{"x":{"field":"x","type":"nominal","sort":null,"title":null,"scale":{"paddingInner":0.12,"paddingOuter":0.1,"range":[11,940]},"axis":{"labelExpr":"datum.label+'_A'"}},"y":{"field":"v","type":"quantitative","stack":"normalize","title":"Relative abundance","axis":{"values":[0,0.25,0.5,0.75,1],"labelExpr":"format(datum.value,'.2f')","offset":-11,"titleY":303},"scale":{"domain":[-0.05,1.034],"nice":false}},"color":{"field":"k","type":"nominal","legend":null,"scale":{"domain":["a","b","c","d","e","f","g","h","i","j","k","l","m","n","o","p","q","r","s","t","u"],"range":["#7a1155","#ad3e8a","#cc92bb","#134a80","#4375ab","#78a9dd","#107f78","#40aeae","#74d0cd","#0f7a4a","#40ab78","#86cba8","#7d7708","#aeae3c","#dfdf70","#7c450a","#b4773d","#e3a66f","#7b0e22","#b33e5c","#e46f86"]}},"order":{"field":"k","sort":"descending"}}},
{"title":{"text":"Site V","dx":-57,"offset":21.5},"width":928,"height":663,"data":{"name":"C_V"},"transform":[{"fold":["a","b","c","d","e","f","g","h","i","j","k","l","m","n","o","p","q","r","s","t","u"],"as":["k","v"]},{"filter":"datum.v>0"}],"mark":{"type":"bar"},"encoding":{"x":{"field":"x","type":"nominal","sort":null,"title":null,"scale":{"paddingInner":0.12,"paddingOuter":0.1},"axis":{"labelExpr":"datum.label+'_V'"}},"y":{"field":"v","type":"quantitative","stack":"normalize","axis":null,"scale":{"domain":[-0.05,1.034],"nice":false}},"color":{"field":"k","type":"nominal","legend":null,"scale":{"domain":["a","b","c","d","e","f","g","h","i","j","k","l","m","n","o","p","q","r","s","t","u"],"range":["#7a1155","#ad3e8a","#cc92bb","#134a80","#4375ab","#78a9dd","#107f78","#40aeae","#74d0cd","#0f7a4a","#40ab78","#86cba8","#7d7708","#aeae3c","#dfdf70","#7c450a","#b4773d","#e3a66f","#7b0e22","#b33e5c","#e46f86"]}},"order":{"field":"k","sort":"descending"}}}
]},
{"width":1800,"height":340,"data":{"name":"leg_C"},"layer":[
{"mark":{"type":"square","size":1296,"opacity":1},"encoding":{"x":{"field":"c","type":"quantitative","axis":null,"scale":{"domain":[0,1,2,3],"range":[-47,111,727,1362]}},"y":{"field":"r","type":"quantitative","axis":null,"scale":{"domain":[1,7],"range":[46,348]}},"color":{"field":"k","type":"nominal","legend":null,"scale":{"domain":["a","b","c","d","e","f","g","h","i","j","k","l","m","n","o","p","q","r","s","t","u"],"range":["#7a1155","#ad3e8a","#cc92bb","#134a80","#4375ab","#78a9dd","#107f78","#40aeae","#74d0cd","#0f7a4a","#40ab78","#86cba8","#7d7708","#aeae3c","#dfdf70","#7c450a","#b4773d","#e3a66f","#7b0e22","#b33e5c","#e46f86"]}}}},
{"transform":[{"filter":"datum.k!='a'"}],"mark":{"type":"text","align":"left","baseline":"middle","fontSize":30,"fontStyle":"italic","dx":33,"color":"#111111"},"encoding":{"x":{"field":"c","type":"quantitative"},"y":{"field":"r","type":"quantitative"},"text":{"field":"n"}}},
{"transform":[{"filter":"datum.k=='a'"}],"mark":{"type":"text","align":"left","baseline":"middle","fontSize":28.5,"dx":33,"color":"#111111"},"encoding":{"x":{"field":"c","type":"quantitative"},"y":{"field":"r","type":"quantitative"},"text":{"field":"n"}}},
{"data":{"values":[{"n":"Species","c":0,"r":4}]},"mark":{"type":"text","align":"left","baseline":"middle","fontSize":28.5,"color":"#111111"},"encoding":{"x":{"field":"c","type":"quantitative"},"y":{"field":"r","type":"quantitative"},"text":{"field":"n"}}}
]}
]
}
